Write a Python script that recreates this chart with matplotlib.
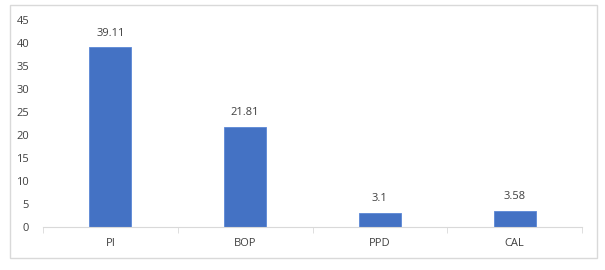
import matplotlib
matplotlib.use("Agg")
import matplotlib.pyplot as plt
from matplotlib.patches import Rectangle

categories = ["PI", "BOP", "PPD", "CAL"]
values = [39.11, 21.81, 3.1, 3.58]
labels = ["39.11", "21.81", "3.1", "3.58"]
yticks = [0, 5, 10, 15, 20, 25, 30, 35, 40, 45]

plt.rcParams['font.family'] = ['Open Sans', 'DejaVu Sans']

fig = plt.figure(figsize=(6.05, 2.7), dpi=100)
fig.patches.append(Rectangle((10/605, 1-258/270), 587/605, 253/270, transform=fig.transFigure,
                             fill=False, edgecolor='#d9d9d9', linewidth=1))
ax = fig.add_axes([43/605, 1-227/270, 539/605, 207/270])
x = list(range(len(categories)))
ax.bar(x, values, width=0.31, color='#4472C4', edgecolor='#5b87d6', linewidth=0.6)
for xi, v, l in zip(x, values, labels):
    ax.annotate(l, (xi, v), xytext=(0, 6), textcoords='offset points', ha='center', va='bottom',
                fontsize=8, color='#404040')
ax.set_xlim(-0.5, 3.5)
ax.set_ylim(0, 45)
ax.set_yticks(yticks)
ax.set_xticks(x)
ax.set_xticklabels(categories)
ax.set_xticks([-0.5, 0.5, 1.5, 2.5, 3.5], minor=True)
ax.tick_params(axis='x', which='major', length=0, pad=8, labelsize=8, labelcolor='#404040')
ax.tick_params(axis='x', which='minor', length=4, color='#d9d9d9', direction='out')
ax.tick_params(axis='y', length=0, pad=10, labelsize=8, labelcolor='#404040')
for s in ['top', 'right', 'left']:
    ax.spines[s].set_visible(False)
ax.spines['bottom'].set_color('#d9d9d9')
fig.savefig("out.png", dpi=100)
